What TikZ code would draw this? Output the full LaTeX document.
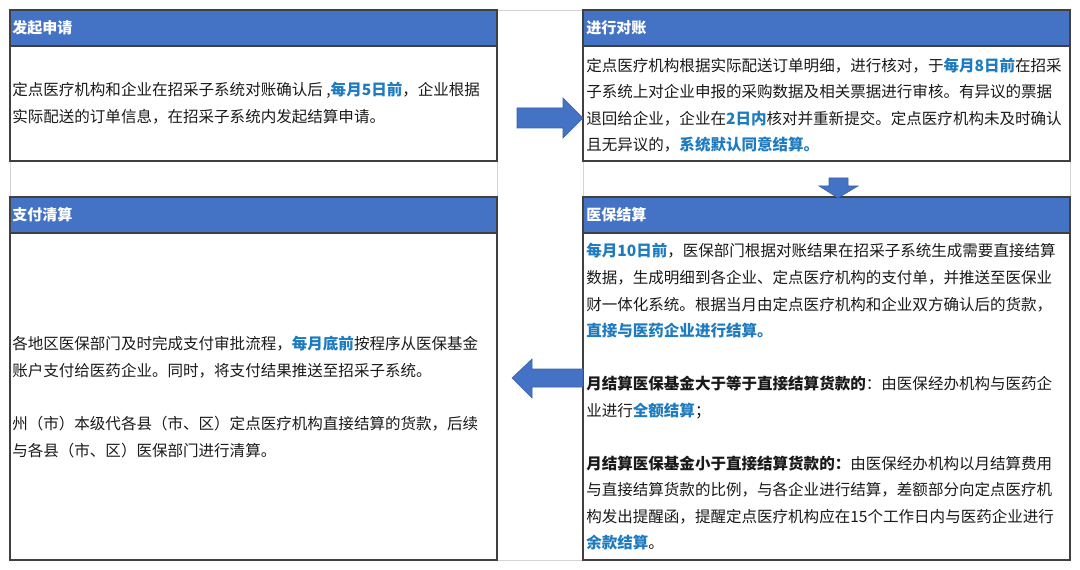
\documentclass[tikz,border=0pt]{standalone}
\usepackage{fontspec}
\setmainfont{Noto Sans CJK SC}
\definecolor{hdrblue}{HTML}{4472C4}
\definecolor{hlblue}{HTML}{1F7BBF}
\definecolor{bordergray}{HTML}{404040}
\definecolor{gridgray}{HTML}{D4D4D4}
\definecolor{txt}{HTML}{1A1A1A}
\newcommand{\hlb}[1]{\textcolor{hlblue}{\textbf{#1}}}
\begin{document}
\begin{tikzpicture}[x=0.75pt,y=-0.75pt,
  hdrtext/.style={anchor=west, inner sep=0pt, text=white, font=\fontsize{11.3}{14}\selectfont\bfseries},
  bodytext/.style={anchor=west, inner sep=0pt, align=left, text=txt, font=\fontsize{11.65}{19.9}\selectfont},
  boxline/.style={draw=bordergray, line width=0.8pt},
  hdrfill/.style={fill=hdrblue, draw=bordergray, line width=0.8pt},
  gridline/.style={draw=gridgray, line width=0.7pt},
  blockarrow/.style={fill=hdrblue, draw=hdrblue!85!black, line width=0.4pt, line join=miter}
]
\useasboundingbox (0,0) rectangle (1080,570);
\fill[white] (0,0) rectangle (1080,570);
% light table grid
\path[gridline] (10,10) rectangle (1070,560);
\path[gridline] (497,10) -- (497,560);
\path[gridline] (583,10) -- (583,560);
% box 1
\path[boxline] (10,46) rectangle (497,161);
\path[hdrfill] (10,10) rectangle (497,46);
\node[hdrtext] (h1) at (12,28) {发起申请};
\node[bodytext] (t1) at (12,103) {定点医疗机构和企业在招采子系统对账确认后 ,\hlb{每月5日前}，企业根据\\
实际配送的订单信息，在招采子系统内发起结算申请。};
% box 2
\path[boxline] (583,46) rectangle (1070,161);
\path[hdrfill] (583,10) rectangle (1070,46);
\node[hdrtext] (h2) at (586,28) {进行对账};
\node[bodytext] (t2) at (586,105) {定点医疗机构根据实际配送订单明细，进行核对，于\hlb{每月8日前}在招采\\
子系统上对企业申报的采购数据及相关票据进行审核。有异议的票据\\
退回给企业，企业在\hlb{2日内}核对并重新提交。定点医疗机构未及时确认\\
且无异议的，\hlb{系统默认同意结算。}};
% box 4 (left bottom)
\path[boxline] (10,233) rectangle (497,560);
\path[hdrfill] (10,197) rectangle (497,233);
\node[hdrtext] (h4) at (12,215) {支付清算};
\node[bodytext] (t4) at (12,397) {各地区医保部门及时完成支付审批流程，\hlb{每月底前}按程序从医保基金\\
账户支付给医药企业。同时，将支付结果推送至招采子系统。\\[19.9pt]
州（市）本级代各县（市、区）定点医疗机构直接结算的货款，后续\\
与各县（市、区）医保部门进行清算。};
% box 3 (right bottom)
\path[boxline] (583,233) rectangle (1070,560);
\path[hdrfill] (583,197) rectangle (1070,233);
\node[hdrtext] (h3) at (586,215) {医保结算};
\node[bodytext] (t3) at (586,397) {\hlb{每月10日前}，医保部门根据对账结果在招采子系统生成需要直接结算\\
数据，生成明细到各企业、定点医疗机构的支付单，并推送至医保业\\
财一体化系统。根据当月由定点医疗机构和企业双方确认后的货款，\\
\hlb{直接与医药企业进行结算。}\\[19.9pt]
\textbf{月结算医保基金大于等于直接结算货款的}：由医保经办机构与医药企\\
业进行\hlb{全额结算}；\\[19.9pt]
\textbf{月结算医保基金小于直接结算货款的：}由医保经办机构以月结算费用\\
与直接结算货款的比例，与各企业进行结算，差额部分向定点医疗机\\
构发出提醒函，提醒定点医疗机构应在15个工作日内与医药企业进行\\
\hlb{余款结算}。};
% block arrows
\path[blockarrow] (517,108) -- (563,108) -- (563,98) -- (583,118) -- (563,138) -- (563,128) -- (517,128) -- cycle;
\path[blockarrow] (829,178) -- (848,178) -- (848,186) -- (858,186) -- (838,198) -- (819,186) -- (829,186) -- cycle;
\path[blockarrow] (583,369) -- (532,369) -- (532,359) -- (512,378) -- (532,398) -- (532,387) -- (583,387) -- cycle;
\end{tikzpicture}
\end{document}
